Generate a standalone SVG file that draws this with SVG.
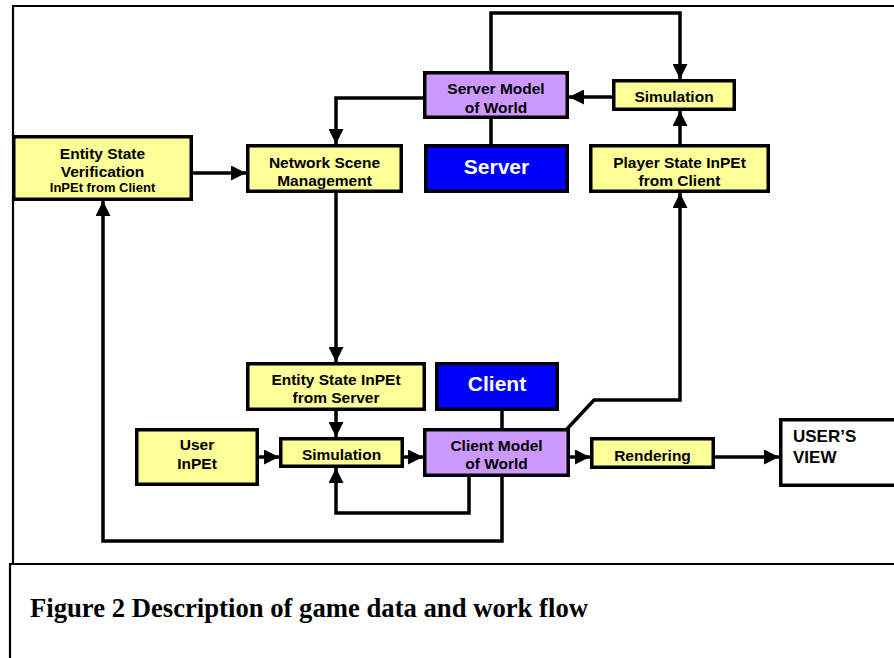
<svg xmlns="http://www.w3.org/2000/svg" width="894" height="658" viewBox="0 0 894 658">
<defs>
<style>
.frame{fill:none;stroke:#000;stroke-width:2.2}
.box{stroke:#000;stroke-width:3.5}
.y{fill:#FFFF99}
.p{fill:#CC99FF}
.b{fill:#0000FF}
.w{fill:#FFFFFF}
.t{font-family:"Liberation Sans",Arial,sans-serif;font-weight:bold;font-size:15.5px;fill:#000;text-anchor:middle}
.s{font-size:13px}
.big{font-size:21px;fill:#FFFFFF}
.uv{font-size:17px;text-anchor:start}
.c{fill:none;stroke:#000;stroke-width:3.5;stroke-linejoin:miter}
.cap{font-family:"Liberation Serif","Times New Roman",serif;font-weight:bold;font-size:27px;fill:#000}
</style>
<marker id="ah" markerUnits="userSpaceOnUse" markerWidth="15" markerHeight="15" refX="15" refY="7.5" orient="auto">
<path d="M0,0 L15,7.5 L0,15 z" fill="#000"/>
</marker>
</defs>
<rect width="894" height="658" fill="#FFFFFF"/>
<g id="frame">
<path class="frame" d="M13,565 V6 H894"/>
<path class="frame" d="M10,658 V564 H894"/>
</g>
<g id="connectors">
<path class="c" d="M491,71 V13 H680 V79" marker-end="url(#ah)"/>
<path class="c" d="M612,97 H569" marker-end="url(#ah)"/>
<path class="c" d="M423,98 H336 V144" marker-end="url(#ah)"/>
<path class="c" d="M491,119 V144"/>
<path class="c" d="M680,144 V111" marker-end="url(#ah)"/>
<path class="c" d="M193,173 H246" marker-end="url(#ah)"/>
<path class="c" d="M336,193 V362" marker-end="url(#ah)"/>
<path class="c" d="M336,411 V437" marker-end="url(#ah)"/>
<path class="c" d="M259,457 H279" marker-end="url(#ah)"/>
<path class="c" d="M404,457 H423" marker-end="url(#ah)"/>
<path class="c" d="M570,457 H590" marker-end="url(#ah)"/>
<path class="c" d="M715,457 H779" marker-end="url(#ah)"/>
<path class="c" d="M502,411 V428"/>
<path class="c" d="M469,477 V513 H336 V468" marker-end="url(#ah)"/>
<path class="c" d="M502,477 V541 H103 V201" marker-end="url(#ah)"/>
<path class="c" d="M567,429 L594,400 H680 V193" marker-end="url(#ah)"/>
</g>
<g id="entity-state-verification">
<rect class="box y" x="13.75" y="136.75" width="177.5" height="62.5"/>
<text class="t" x="102.5" y="158.5">Entity State</text>
<text class="t" x="102.5" y="176.5">Verification</text>
<text class="t s" x="102.5" y="191.5">InPEt from Client</text>
</g>
<g id="network-scene-management">
<rect class="box y" x="247.75" y="145.75" width="153.5" height="45.5"/>
<text class="t" x="324.5" y="167.5">Network Scene</text>
<text class="t" x="324.5" y="185.5">Management</text>
</g>
<g id="server-model">
<rect class="box p" x="424.75" y="72.75" width="142.5" height="44.5"/>
<text class="t" x="496" y="93.5">Server Model</text>
<text class="t" x="496" y="112.5">of World</text>
</g>
<g id="server">
<rect class="box b" x="425.75" y="145.75" width="141.5" height="45.5"/>
<text class="t big" x="496.5" y="173.5">Server</text>
</g>
<g id="simulation-server">
<rect class="box y" x="613.75" y="80.75" width="120.5" height="28.5"/>
<text class="t" x="674" y="101.5">Simulation</text>
</g>
<g id="player-state-input">
<rect class="box y" x="590.75" y="145.75" width="177.5" height="45.5"/>
<text class="t" x="679.5" y="167.5">Player State InPEt</text>
<text class="t" x="679.5" y="185.5">from Client</text>
</g>
<g id="entity-state-input-server">
<rect class="box y" x="247.75" y="363.75" width="176.5" height="45.5"/>
<text class="t" x="336" y="384.5">Entity State InPEt</text>
<text class="t" x="336" y="402.5">from Server</text>
</g>
<g id="client">
<rect class="box b" x="436.75" y="363.75" width="120.5" height="45.5"/>
<text class="t big" x="497" y="390.5">Client</text>
</g>
<g id="user-input">
<rect class="box y" x="136.75" y="429.75" width="120.5" height="54.5"/>
<text class="t" x="197" y="449.5">User</text>
<text class="t" x="197" y="468.5">InPEt</text>
</g>
<g id="simulation-client">
<rect class="box y" x="280.75" y="438.75" width="121.5" height="27.5"/>
<text class="t" x="341.5" y="459.5">Simulation</text>
</g>
<g id="client-model">
<rect class="box p" x="424.75" y="429.75" width="143.5" height="45.5"/>
<text class="t" x="496.5" y="450.5">Client Model</text>
<text class="t" x="496.5" y="468.5">of World</text>
</g>
<g id="rendering">
<rect class="box y" x="591.75" y="438.75" width="121.5" height="28.5"/>
<text class="t" x="652.5" y="460.5">Rendering</text>
</g>
<g id="users-view">
<rect class="box w" x="780.75" y="419.75" width="116" height="65.5"/>
<text class="t uv" x="793" y="442">USER’S</text>
<text class="t uv" x="793" y="463">VIEW</text>
</g>
<g id="caption">
<text class="cap" x="30" y="617" textLength="558" lengthAdjust="spacingAndGlyphs">Figure 2 Description of game data and work flow</text>
</g>
</svg>
